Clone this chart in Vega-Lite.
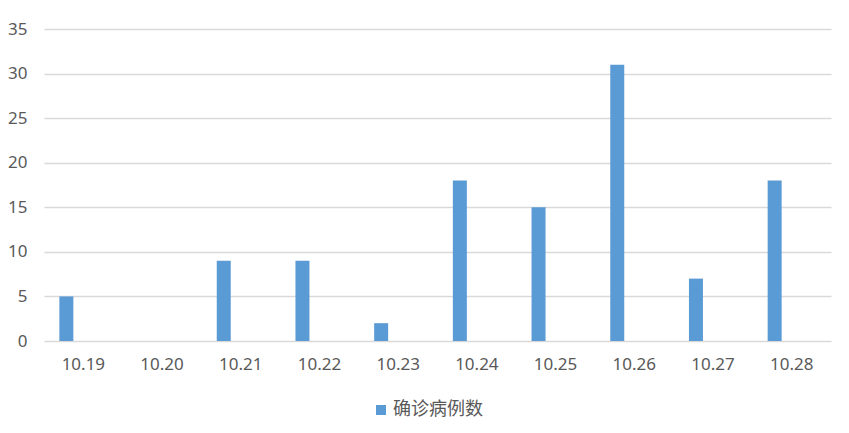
{
  "$schema": "https://vega.github.io/schema/vega-lite/v6.json",
  "autosize": {"type": "none"},
  "padding": {"left": 44, "top": 29, "right": 18, "bottom": 92},
  "width": 787,
  "height": 312,
  "background": "white",
  "data": {
    "values": [
      {"date": "10.19", "cases": 5, "series": "确诊病例数"},
      {"date": "10.20", "cases": 0, "series": "确诊病例数"},
      {"date": "10.21", "cases": 9, "series": "确诊病例数"},
      {"date": "10.22", "cases": 9, "series": "确诊病例数"},
      {"date": "10.23", "cases": 2, "series": "确诊病例数"},
      {"date": "10.24", "cases": 18, "series": "确诊病例数"},
      {"date": "10.25", "cases": 15, "series": "确诊病例数"},
      {"date": "10.26", "cases": 31, "series": "确诊病例数"},
      {"date": "10.27", "cases": 7, "series": "确诊病例数"},
      {"date": "10.28", "cases": 18, "series": "确诊病例数"}
    ]
  },
  "mark": {"type": "bar", "width": 14, "xOffset": -17},
  "encoding": {
    "x": {
      "field": "date",
      "type": "nominal",
      "sort": null,
      "scale": {"paddingInner": 0, "paddingOuter": 0},
      "axis": {
        "title": null,
        "labelAngle": 0,
        "ticks": false,
        "domain": false,
        "grid": false,
        "labelPadding": 15,
        "labelFontSize": 17,
        "labelColor": "#595959",
        "labelFont": "Noto Sans"
      }
    },
    "y": {
      "field": "cases",
      "type": "quantitative",
      "scale": {"domain": [0, 35]},
      "axis": {
        "title": null,
        "values": [0, 5, 10, 15, 20, 25, 30, 35],
        "ticks": false,
        "domain": false,
        "labelPadding": 17,
        "labelFontSize": 17,
        "labelColor": "#595959",
        "labelFont": "Noto Sans",
        "gridColor": "#d9d9d9",
        "gridWidth": 1.3
      }
    },
    "color": {
      "field": "series",
      "type": "nominal",
      "title": null,
      "scale": {"range": ["#5B9BD5"]},
      "legend": {
        "orient": "none",
        "legendX": 328,
        "legendY": 372,
        "symbolType": "square",
        "symbolSize": 100,
        "symbolOffset": 0,
        "labelFont": "Noto Sans CJK SC",
        "labelFontSize": 18,
        "labelColor": "#595959",
        "labelOffset": 3
      }
    }
  },
  "config": {"view": {"stroke": null}}
}
